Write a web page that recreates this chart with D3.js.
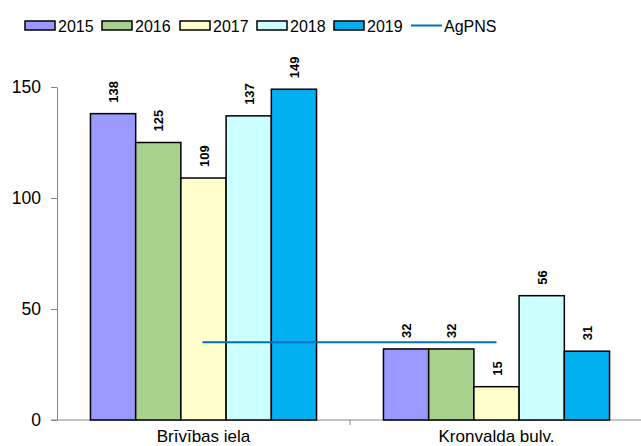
<!DOCTYPE html>
<html>
<head>
<meta charset="utf-8">
<script src="https://cdn.jsdelivr.net/npm/d3@7"></script>
<style>
  body { margin: 0; background: #fff; }
  svg { display: block; font-family: Arial, "Liberation Sans", sans-serif; }
</style>
</head>
<body>
<svg id="chart" width="641" height="446"></svg>
<script>
var categories = ['Brīvības iela', 'Kronvalda bulv.'];
var years = ['2015', '2016', '2017', '2018', '2019'];
var values = [
  [138, 125, 109, 137, 149],
  [32, 32, 15, 56, 31]
];
var agpns = [35, 35];
var colors = ['#9999ff', '#a9d18e', '#ffffcc', '#ccffff', '#00b0f0'];
var yTicks = [0, 50, 100, 150];

var svg = d3.select('#chart');
var x0 = 57, x1 = 643, yTop = 87, yBot = 420;

var x = d3.scaleBand().domain(categories).range([x0, x1]);
var y = d3.scaleLinear().domain([0, 150]).range([yBot, yTop]);
var xs = d3.scaleBand().domain(years)
  .range([0, x.bandwidth()]).paddingOuter(0.74).paddingInner(0);

// x axis line
svg.append('line')
  .attr('x1', x0 - 6).attr('x2', x1)
  .attr('y1', yBot).attr('y2', yBot)
  .attr('stroke', '#888').attr('stroke-width', 1);
// category separator tick
svg.append('line')
  .attr('x1', x(categories[1])).attr('x2', x(categories[1]))
  .attr('y1', yBot).attr('y2', yBot + 5)
  .attr('stroke', '#888');

// y axis
var yAxis = svg.append('g')
  .attr('transform', 'translate(' + x0 + ',0)')
  .call(d3.axisLeft(y).tickValues(yTicks).tickSize(6).tickPadding(10).tickSizeOuter(0));
yAxis.select('.domain').attr('stroke', '#888');
yAxis.selectAll('.tick line').attr('stroke', '#888');
yAxis.selectAll('.tick text')
  .attr('font-size', 17.5).attr('fill', '#000')
  .style('font-family', 'Arial, "Liberation Sans", sans-serif');

// bars
var groups = svg.selectAll('g.grp')
  .data(categories)
  .enter().append('g')
    .attr('class', 'grp')
    .attr('transform', function(d) { return 'translate(' + x(d) + ',0)'; });

groups.each(function(c, ci) {
  var g = d3.select(this);
  years.forEach(function(yr, i) {
    var v = values[ci][i];
    g.append('rect')
      .attr('x', xs(yr))
      .attr('y', y(v))
      .attr('width', xs.bandwidth())
      .attr('height', yBot - y(v))
      .attr('fill', colors[i])
      .attr('stroke', '#000')
      .attr('stroke-width', 1.5);
    var lx = xs(yr) + xs.bandwidth() / 2 + 5;
    var ly = y(v) - 11;
    g.append('text')
      .attr('transform', 'translate(' + lx + ',' + ly + ') rotate(-90)')
      .attr('font-size', 13)
      .attr('font-weight', 'bold')
      .attr('fill', '#000')
      .text(v);
  });
});

// AgPNS line
svg.append('line')
  .attr('x1', x(categories[0]) + x.bandwidth() / 2 - 1)
  .attr('x2', x(categories[1]) + x.bandwidth() / 2)
  .attr('y1', y(agpns[0])).attr('y2', y(agpns[1]))
  .attr('stroke', '#0070c0').attr('stroke-width', 2);

// category labels
svg.selectAll('text.cat')
  .data(categories)
  .enter().append('text')
    .attr('class', 'cat')
    .attr('x', function(d) { return x(d) + x.bandwidth() / 2; })
    .attr('y', 442)
    .attr('text-anchor', 'middle')
    .attr('font-size', 17)
    .text(function(d) { return d; });

// legend
var legX = [25, 102, 180, 257, 334];
years.forEach(function(yr, i) {
  svg.append('rect')
    .attr('x', legX[i]).attr('y', 21)
    .attr('width', 30).attr('height', 9)
    .attr('fill', colors[i]).attr('stroke', '#000').attr('stroke-width', 1.5);
  svg.append('text')
    .attr('x', legX[i] + 33).attr('y', 31.5)
    .attr('font-size', 16)
    .text(yr);
});
svg.append('line')
  .attr('x1', 411).attr('x2', 442).attr('y1', 25.5).attr('y2', 25.5)
  .attr('stroke', '#0070c0').attr('stroke-width', 2);
svg.append('text')
  .attr('x', 444).attr('y', 31.5)
  .attr('font-size', 16)
  .text('AgPNS');
</script>
</body>
</html>
